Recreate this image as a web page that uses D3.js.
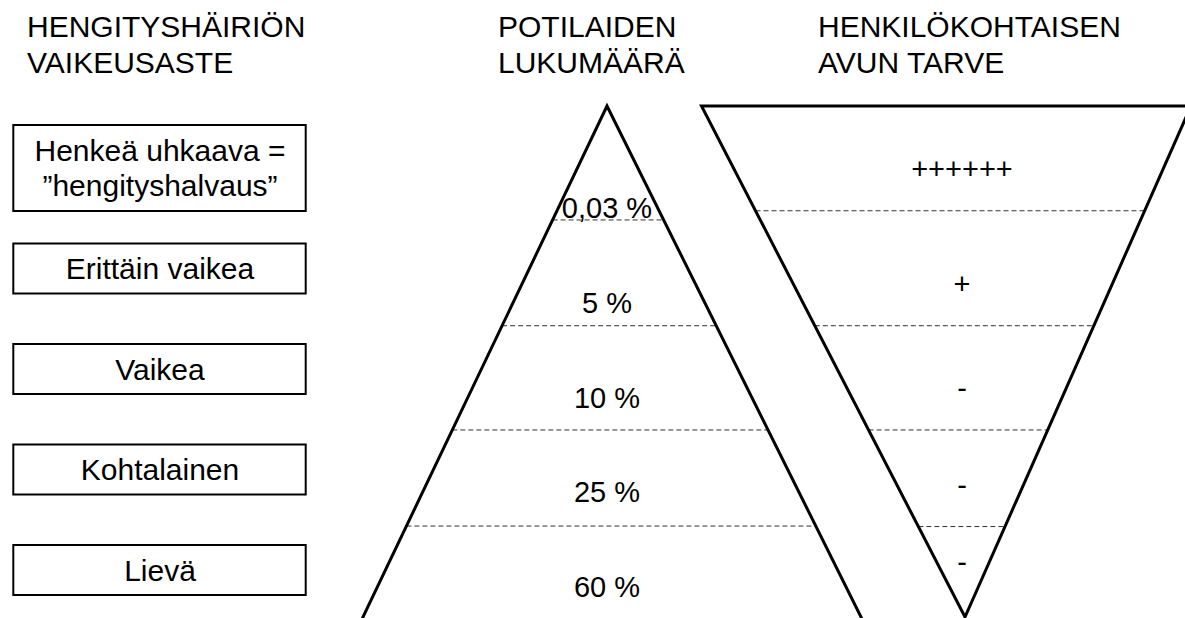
<!DOCTYPE html>
<html>
<head>
<meta charset="utf-8">
<script src="https://cdn.jsdelivr.net/npm/d3@7"></script>
<style>
  body { margin: 0; background: #fff; }
  svg { display: block; font-family: "Liberation Sans", Arial, sans-serif; }
</style>
</head>
<body>
<div id="graph"></div>
<script>
// column headers
const headers = [
  ["HENGITYSHÄIRIÖN", "VAIKEUSASTE"],
  ["POTILAIDEN", "LUKUMÄÄRÄ"],
  ["HENKILÖKOHTAISEN", "AVUN TARVE"]
];

// severity levels (boxes, top to bottom)
const severity = [
  ["Henkeä uhkaava =", "”hengityshalvaus”"],
  ["Erittäin vaikea"],
  ["Vaikea"],
  ["Kohtalainen"],
  ["Lievä"]
];

// share of patients, one per band of the pyramid
const patientShare = ["0,03 %", "5 %", "10 %", "25 %", "60 %"];

// need of personal help, one per band of the funnel
const helpNeed = ["++++++", "+", "-", "-", "-"];

// band borders as depth fractions (0 = top, 1 = bottom)
const shareEdges = [0.223, 0.430, 0.634, 0.822];
const needEdges = [0.205, 0.430, 0.634, 0.823];

const width = 1185, height = 618;

const svg = d3.select("#graph")
  .append("svg")
    .attr("width", width)
    .attr("height", height);

// depth -> pixel
const y = d3.scaleLinear().domain([0, 1]).range([106, 617]);

// pyramid edges (apex up)
const pyrLeft = d3.scaleLinear().domain([0, 1]).range([607, 363]);
const pyrRight = d3.scaleLinear().domain([0, 1]).range([607, 861]);
// funnel edges (apex down)
const funLeft = d3.scaleLinear().domain([0, 1]).range([701.5, 965]);
const funRight = d3.scaleLinear().domain([0, 1]).range([1191, 965]);

// headers
const headerX = [27, 498, 818];
headers.forEach((lines, i) => {
  const t = svg.append("text")
    .attr("x", headerX[i])
    .attr("y", 37)
    .attr("font-size", 30)
    .attr("fill", "#000");
  lines.forEach((s, j) => {
    t.append("tspan")
      .attr("x", headerX[i])
      .attr("dy", j === 0 ? 0 : 36)
      .text(s);
  });
});

// severity boxes
const boxY = d3.scaleLinear().domain([0, severity.length - 1]).range([168, 570]);
const boxH = d => 50 + (d.length - 1) * 36;
const boxes = svg.selectAll("g.box")
  .data(severity)
  .enter()
  .append("g")
    .attr("class", "box");

boxes.append("rect")
  .attr("x", 13.3)
  .attr("width", 292.4)
  .attr("y", (d, i) => boxY(i) - boxH(d) / 2)
  .attr("height", boxH)
  .attr("fill", "#fff")
  .attr("stroke", "#000")
  .attr("stroke-width", 2);

boxes.each(function (d, i) {
  const g = d3.select(this);
  d.forEach((s, j) => {
    g.append("text")
      .attr("x", 160)
      .attr("y", boxY(i) + 10.5 - (d.length - 1) * 17.5 + j * 35)
      .attr("text-anchor", "middle")
      .attr("font-size", 30)
      .text(s);
  });
});

// dashed band borders
svg.selectAll("line.share")
  .data(shareEdges)
  .enter()
  .append("line")
    .attr("class", "share")
    .attr("x1", d => pyrLeft(d))
    .attr("x2", d => pyrRight(d))
    .attr("y1", d => y(d))
    .attr("y2", d => y(d))
    .attr("stroke", "#333")
    .attr("stroke-width", 1)
    .attr("stroke-dasharray", "5,3");

svg.selectAll("line.need")
  .data(needEdges)
  .enter()
  .append("line")
    .attr("class", "need")
    .attr("x1", d => funLeft(d))
    .attr("x2", d => funRight(d))
    .attr("y1", d => y(d))
    .attr("y2", d => y(d))
    .attr("stroke", "#333")
    .attr("stroke-width", 1)
    .attr("stroke-dasharray", "5,3");

// pyramid outline (base lies below the picture)
svg.append("path")
  .attr("d", d3.line()([
    [pyrLeft(1.03), y(1.03)],
    [pyrLeft(0), y(0)],
    [pyrRight(1.03), y(1.03)]
  ]))
  .attr("fill", "none")
  .attr("stroke", "#000")
  .attr("stroke-width", 3)
  .attr("stroke-linejoin", "miter");

// funnel outline
svg.append("path")
  .attr("d", d3.line()([
    [funLeft(0), y(0)],
    [funRight(0), y(0)],
    [funRight(1), y(1)],
    [funLeft(1), y(1)]
  ]) + "Z")
  .attr("fill", "none")
  .attr("stroke", "#000")
  .attr("stroke-width", 3)
  .attr("stroke-linejoin", "miter");

// patient share labels
const shareY = d3.scaleLinear().domain([0, patientShare.length - 1]).range([218, 597]);
svg.selectAll("text.share")
  .data(patientShare)
  .enter()
  .append("text")
    .attr("class", "share")
    .attr("x", 607)
    .attr("y", (d, i) => shareY(i))
    .attr("text-anchor", "middle")
    .attr("font-size", 29)
    .text(d => d);

// help need labels
const needBands = [0].concat(needEdges, [1]);
svg.selectAll("text.need")
  .data(helpNeed)
  .enter()
  .append("text")
    .attr("class", "need")
    .attr("x", 962)
    .attr("y", (d, i) => {
      const lo = y(needBands[i]), hi = y(needBands[i + 1]);
      return i < helpNeed.length - 1 ? hi - 32 : (lo + hi) / 2;
    })
    .attr("text-anchor", "middle")
    .attr("font-size", 29)
    .text(d => d);
</script>
</body>
</html>
